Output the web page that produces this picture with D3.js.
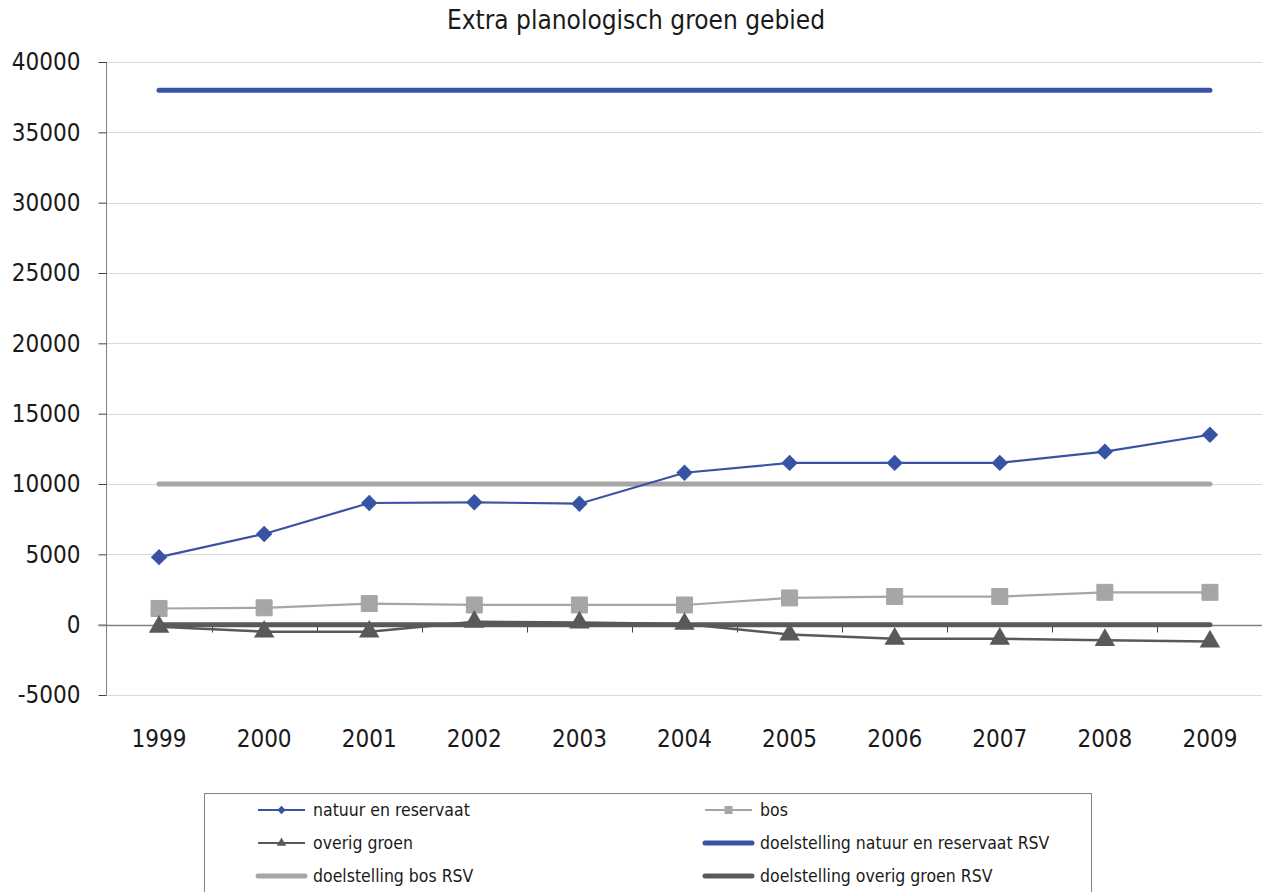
<!DOCTYPE html>
<html>
<head>
<meta charset="utf-8">
<script src="https://cdn.jsdelivr.net/npm/d3@7"></script>
<style>
  body { margin: 0; background: #fff; }
  text { font-family: "DejaVu Sans Condensed", "DejaVu Sans", sans-serif; fill: #1a1a1a; }
</style>
</head>
<body>
<svg id="chart" width="1262" height="892"></svg>
<script>
// data
const years = ["1999","2000","2001","2002","2003","2004","2005","2006","2007","2008","2009"];
const natuur = [4800, 6450, 8650, 8700, 8600, 10800, 11500, 11500, 11500, 12300, 13500];
const bos = [1150, 1200, 1500, 1400, 1400, 1400, 1900, 2000, 2000, 2300, 2300];
const overig = [-150, -500, -500, 200, 150, 50, -700, -1000, -1000, -1100, -1200];
const doelNatuur = [38000, 38000, 38000, 38000, 38000, 38000, 38000, 38000, 38000, 38000, 38000];
const doelBos = [10000, 10000, 10000, 10000, 10000, 10000, 10000, 10000, 10000, 10000, 10000];
const doelOverig = [0, 0, 0, 0, 0, 0, 0, 0, 0, 0, 0];
const yTicks = [-5000, 0, 5000, 10000, 15000, 20000, 25000, 30000, 35000, 40000];

const blue = "#3953a4", lightGrey = "#a6a6a6", darkGrey = "#595959";

const series = [
  {name: "natuur en reservaat", values: natuur, color: blue, width: 2.2, marker: "diamond"},
  {name: "bos", values: bos, color: lightGrey, width: 2.2, marker: "square"},
  {name: "overig groen", values: overig, color: darkGrey, width: 2.5, marker: "triangle"},
  {name: "doelstelling natuur en reservaat RSV", values: doelNatuur, color: blue, width: 5, marker: null},
  {name: "doelstelling bos RSV", values: doelBos, color: lightGrey, width: 5, marker: null},
  {name: "doelstelling overig groen RSV", values: doelOverig, color: darkGrey, width: 5, marker: null}
];

const svg = d3.select("#chart");
const plotLeft = 106.5, plotRight = 1262.5, plotTop = 62, plotBottom = 695;

const x = d3.scalePoint().domain(years).range([plotLeft, plotRight]).padding(0.5);
const y = d3.scaleLinear().domain([-5000, 40000]).range([plotBottom, plotTop]);
const step = x.step();

// title
svg.append("text")
   .attr("x", 636)
   .attr("y", 29)
   .attr("text-anchor", "middle")
   .attr("font-size", 26)
   .text("Extra planologisch groen gebied");

// gridlines
svg.append("g")
   .selectAll("line")
   .data(yTicks)
   .enter()
   .append("line")
   .attr("x1", plotLeft)
   .attr("x2", plotRight)
   .attr("y1", d => Math.round(y(d)) + 0.5)
   .attr("y2", d => Math.round(y(d)) + 0.5)
   .attr("stroke", "#d9d9d9")
   .attr("stroke-width", 1);

// y axis
const yAxis = svg.append("g")
   .attr("transform", "translate(" + plotLeft + ",0)")
   .call(d3.axisLeft(y).tickValues(yTicks).tickSize(8).tickPadding(18).tickFormat(d => String(d)));
yAxis.select(".domain").attr("stroke", "#808080").attr("d", "M0," + plotTop + "V" + plotBottom);
yAxis.selectAll(".tick line").attr("stroke", "#404040");
yAxis.selectAll(".tick text").attr("font-size", 24).attr("fill", "#1a1a1a")
     .attr("font-family", "\"DejaVu Sans Condensed\", \"DejaVu Sans\", sans-serif");

// x axis at zero
const y0 = Math.round(y(0)) + 0.5;
svg.append("line")
   .attr("x1", plotLeft - 8).attr("x2", plotRight)
   .attr("y1", y0).attr("y2", y0)
   .attr("stroke", "#808080").attr("stroke-width", 1.5);

svg.append("g")
   .selectAll("line")
   .data(years.slice(1))
   .enter()
   .append("line")
   .attr("x1", d => Math.round(x(d) - step / 2) + 0.5)
   .attr("x2", d => Math.round(x(d) - step / 2) + 0.5)
   .attr("y1", y0)
   .attr("y2", y0 + 7)
   .attr("stroke", "#404040");

// x labels
svg.append("g")
   .selectAll("text")
   .data(years)
   .enter()
   .append("text")
   .attr("x", d => x(d))
   .attr("y", 747)
   .attr("text-anchor", "middle")
   .attr("font-size", 24)
   .text(d => d);

// markers
const markerPath = function(type, s) {
  if (type == "diamond") return d3.symbol().type(d3.symbolDiamond2).size(s)();
  if (type == "square") return "M" + (-s/2) + "," + (-s/2) + "h" + s + "v" + s + "h" + (-s) + "Z";
  if (type == "triangle") return d3.symbol().type(d3.symbolTriangle2).size(s)();
  return "";
};
const bigMarker = {diamond: 172, square: 16, triangle: 300};
const smallMarker = {diamond: 44, square: 8, triangle: 64};

const line = d3.line().x((d, i) => x(years[i])).y(d => y(d));

// targets first, then data series
const drawOrder = [series[3], series[4], series[5], series[0], series[1], series[2]];
drawOrder.forEach(function(s) {
  svg.append("path")
     .attr("d", line(s.values))
     .attr("fill", "none")
     .attr("stroke", s.color)
     .attr("stroke-width", s.width)
     .attr("stroke-linecap", s.marker ? "butt" : "round");
  if (s.marker) {
    svg.append("g")
       .selectAll("path")
       .data(s.values)
       .enter()
       .append("path")
       .attr("transform", (d, i) => "translate(" + x(years[i]) + "," + y(d) + ")")
       .attr("d", markerPath(s.marker, bigMarker[s.marker]))
       .attr("fill", s.color)
       .attr("stroke", s.marker == "square" ? s.color : "none")
       .attr("stroke-linejoin", "round")
       .attr("stroke-width", 1);
  }
});

// legend
const legend = svg.append("g");
legend.append("rect")
      .attr("x", 204.5).attr("y", 793.5)
      .attr("width", 887).attr("height", 120)
      .attr("fill", "#fff")
      .attr("stroke", "#808080");

const legendPos = [[258, 810], [705, 810], [258, 843], [705, 843], [258, 876], [705, 876]];
series.forEach(function(s, i) {
  const g = legend.append("g").attr("transform", "translate(" + legendPos[i][0] + "," + legendPos[i][1] + ")");
  g.append("line")
   .attr("x1", 0).attr("x2", 47)
   .attr("stroke", s.color)
   .attr("stroke-width", s.marker ? 2 : 5)
   .attr("stroke-linecap", s.marker ? "butt" : "round");
  if (s.marker) {
    g.append("path")
     .attr("transform", "translate(23.5,0)")
     .attr("d", markerPath(s.marker, smallMarker[s.marker]))
     .attr("fill", s.color);
  }
  g.append("text")
   .attr("x", 55)
   .attr("y", 6)
   .attr("font-size", 17.5)
   .text(s.name);
});
</script>
</body>
</html>
